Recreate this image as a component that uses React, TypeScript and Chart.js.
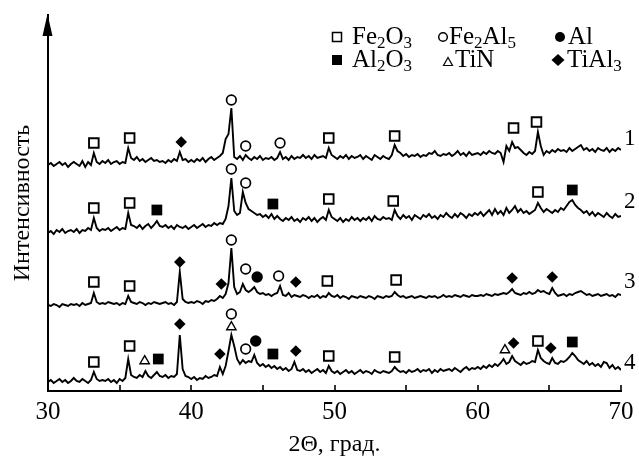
import React, { useEffect, useRef } from 'react';
import { Chart, registerables } from 'chart.js';

Chart.register(...registerables);

// 2Θ sampling grid: 30 .. 70 deg, step 0.2
const X_START = 30;
const X_STEP = 0.2;

// Intensities (arbitrary units, already offset per pattern)
const trace1 = [
  226, 228, 225, 227, 229, 226, 228, 224, 227, 229,
  227, 225, 230, 224, 229, 226, 238, 229, 227, 230,
  228, 231, 227, 229, 230, 227, 229, 228, 243, 233,
  231, 234, 230, 232, 229, 231, 233, 230, 231, 229,
  230, 228, 231, 229, 232, 230, 239, 231, 232, 229,
  231, 229, 232, 230, 233, 229, 232, 234, 231, 233,
  235, 238, 252, 257, 283, 234, 232, 235, 231, 236,
  233, 231, 234, 232, 235, 231, 233, 232, 234, 231,
  233, 239, 232, 234, 231, 235, 232, 234, 233, 236,
  233, 235, 232, 236, 233, 234, 235, 233, 243, 236,
  234, 232, 235, 233, 236, 232, 235, 233, 234, 236,
  232, 235, 233, 231, 236, 234, 232, 235, 233, 232,
  236, 246, 240, 238, 235, 237, 234, 236, 235, 237,
  234, 236, 235, 238, 237, 240, 236, 235, 237, 236,
  238, 235, 237, 240, 236, 238, 235, 239, 236, 237,
  238, 236, 239, 237, 240, 238, 237, 240, 238, 229,
  245, 240, 249, 243, 244, 241, 238, 236, 239, 237,
  240, 259, 245, 236, 240, 238, 241, 239, 242, 240,
  241, 239, 243, 240, 242, 244, 246, 241, 243, 240,
  242, 239, 243, 241, 240, 243, 239, 242, 240, 243,
  241,
];
const trace2 = [
  158, 160, 157, 161, 159, 162, 158, 160, 161, 159,
  162, 158, 161, 160, 163, 161, 173, 163, 160, 162,
  161, 163, 160, 162, 164, 161, 163, 162, 178, 166,
  165, 163, 166, 162, 165, 167, 163, 166, 170, 165,
  164, 166, 163, 165, 162, 166, 164, 163, 165, 162,
  164, 166, 163, 165, 167, 164, 166, 165, 168, 166,
  168, 167, 172, 185, 213, 180, 176, 178, 199, 188,
  182, 180, 178, 176, 177, 174, 176, 173, 177, 172,
  175, 172, 170, 173, 171, 174, 170, 172, 169, 173,
  171, 174, 170, 173, 169, 172, 174, 171, 181, 174,
  172, 170, 173, 169, 172, 170, 174, 171, 173, 170,
  173, 171, 174, 170, 175, 172, 171, 174, 172, 173,
  171, 181, 175, 172, 176, 173, 175, 171, 176, 174,
  172, 176, 174, 177, 173, 175, 172, 176, 174, 178,
  175, 173, 177, 174, 178, 176, 173, 177, 175, 178,
  176, 179, 175, 178, 181, 176, 182, 177, 180, 176,
  183, 178, 181, 185, 179, 182, 178, 180, 177, 179,
  181, 188, 183, 179, 182, 180, 178, 181, 179, 183,
  181, 185, 189, 191, 186, 183, 181, 178, 180, 176,
  179, 175, 178, 176, 174, 178, 175, 173, 177, 174,
  175,
];
const trace3 = [
  86, 85, 87, 86, 84, 87, 86, 85, 87, 86,
  87, 85, 88, 86, 87, 88, 98, 89, 87, 88,
  87, 89, 88, 87, 88, 86, 88, 87, 95, 89,
  88, 87, 89, 88, 86, 88, 87, 89, 88, 87,
  88, 89, 87, 88, 86, 89, 119, 92, 89, 88,
  89, 88, 90, 89, 87, 90, 89, 91, 90, 92,
  95, 93, 97, 108, 143, 104, 97, 99, 107, 101,
  99, 101, 104, 99, 97, 98, 96, 97, 95, 97,
  98, 105, 96, 95, 98, 94, 96, 95, 94, 96,
  95, 93, 95, 94, 96, 93, 95, 94, 98, 95,
  94, 96, 93, 95, 94, 92, 95, 94, 93, 95,
  94, 93, 95, 94, 92, 95, 94, 93, 95, 94,
  95, 99, 96, 94, 95, 93, 94, 95, 93, 94,
  95, 94, 93, 95, 94, 95, 93, 94, 96, 94,
  95, 94, 96, 95, 94, 96, 95, 94, 96, 95,
  95, 96, 95, 97, 96, 95, 97, 96, 97, 98,
  97, 99, 102, 98, 97, 96, 98, 97, 99, 97,
  98, 101, 99, 100, 98, 97, 103, 98, 95, 96,
  97, 95, 97, 96, 98, 99, 100, 98, 96, 97,
  95, 96, 97, 95, 96, 97, 95, 96, 94, 97,
  96,
];
const trace4 = [
  9, 11, 8, 10, 12, 9, 11, 8, 10, 13,
  10, 9, 12, 10, 8, 11, 19, 12, 10, 11,
  10, 12, 9, 11, 8, 12, 10, 13, 32, 16,
  14, 13, 16, 14, 20, 15, 13, 16, 19, 15,
  14, 16, 13, 15, 14, 17, 56, 22, 15, 14,
  12, 14, 11, 13, 12, 15, 13, 14, 16, 15,
  24, 17, 25, 40, 56, 45, 32, 27, 31, 28,
  30, 29, 36, 28, 25, 27, 24, 26, 23, 25,
  22, 24, 21, 23, 20, 22, 29, 21, 20, 22,
  19, 21, 18, 20, 22, 19, 21, 18, 25, 20,
  18, 20, 17, 19, 21, 18, 20, 17, 19, 21,
  18, 20, 19, 17, 21, 19, 18, 20, 19, 18,
  20, 24, 21, 19, 20, 18, 21, 19, 20, 22,
  19, 21, 20, 22, 18, 21, 19, 22, 20, 21,
  22, 20, 23, 21, 19, 22, 24, 21, 23, 22,
  24, 22, 25, 23, 26, 24, 27, 25, 28, 32,
  27, 29, 35, 30, 28, 26, 29, 27, 28, 30,
  29, 41, 33, 30, 28, 27, 33, 28, 27, 30,
  29, 31, 34, 38, 35, 31, 29, 27, 30, 26,
  28, 25, 27, 24, 29, 28, 23, 26, 22, 24,
  21,
];

// Phase markers (2Θ, height)
const fe2o3X = [33.2, 35.7, 49.6, 54.2, 62.5, 64.1, 33.2, 35.7, 49.6, 54.1, 64.2, 33.2, 35.7, 49.5, 54.3, 33.2, 35.7, 49.6, 54.2, 64.2];
const fe2o3Y = [248, 253, 253, 255, 263, 269, 183, 188, 192, 190, 199, 109, 105, 110, 111, 29, 45, 35, 34, 50];
const fe2al5X = [42.8, 43.8, 46.2, 42.8, 43.8, 42.8, 43.8, 46.1, 42.8, 43.8];
const fe2al5Y = [291, 245, 248, 222, 208, 151, 122, 115, 77, 42];
const alX = [44.6, 44.5];
const alY = [114, 50];
const al2o3X = [37.6, 45.7, 66.6, 37.7, 45.7, 66.6];
const al2o3Y = [181, 187, 201, 32, 37, 49];
const tinX = [36.75, 42.8, 61.9];
const tinY = [30, 64, 41];
const tial3X = [39.3, 39.2, 42.1, 47.3, 62.4, 65.2, 39.2, 42.0, 47.3, 62.5, 65.1];
const tial3Y = [249, 129, 107, 109, 113, 114, 67, 37, 40, 48, 43];

const legendNames = ['Fe_2O_3', 'Fe_2Al_5', 'Al', 'Al_2O_3', 'TiN', 'TiAl_3'];
const traceNames = ['1', '2', '3', '4'];
const traceLabelY = [252, 189, 109, 28];
const xMinorTicks = [35, 40, 45, 50, 55, 60, 65, 70];

const SERIF = '"Liberation Serif", "Times New Roman", serif';

function toLine(ys: number[]) {
  return ys.map((y, i) => ({ x: +(X_START + i * X_STEP).toFixed(2), y }));
}
function toPts(xs: number[], ys: number[]) {
  return xs.map((x, i) => ({ x, y: ys[i] }));
}

function drawRich(ctx: CanvasRenderingContext2D, text: string, x: number, y: number, size: number) {
  const parts = text.split(/(_\d)/).filter((p) => p.length);
  let cx = x;
  for (const p of parts) {
    const sub = p.startsWith('_');
    const t = sub ? p.slice(1) : p;
    const s = sub ? Math.round(size * 0.66) : size;
    ctx.font = `${s}px ${SERIF}`;
    ctx.fillText(t, cx, y + (sub ? size * 0.16 : 0));
    cx += ctx.measureText(t).width;
  }
}

const decorPlugin = {
  id: 'decor',
  afterDraw(chart: any) {
    const ctx: CanvasRenderingContext2D = chart.ctx;
    const { left, bottom } = chart.chartArea;
    const xs = chart.scales.x;
    const ys = chart.scales.y;
    ctx.save();
    ctx.fillStyle = '#000';
    ctx.strokeStyle = '#000';
    // arrow on the intensity axis
    ctx.beginPath();
    ctx.moveTo(left - 0.5, 14);
    ctx.lineTo(left - 5.5, 36);
    ctx.lineTo(left + 4.5, 36);
    ctx.closePath();
    ctx.fill();
    // inward tick marks
    ctx.lineWidth = 1.6;
    for (const t of xMinorTicks) {
      const px = Math.round(xs.getPixelForValue(t));
      ctx.beginPath();
      ctx.moveTo(px, bottom);
      ctx.lineTo(px, bottom - 6);
      ctx.stroke();
    }
    // pattern numbers
    ctx.textBaseline = 'middle';
    ctx.textAlign = 'left';
    ctx.font = `23px ${SERIF}`;
    traceNames.forEach((n, i) => {
      ctx.fillText(n, xs.getPixelForValue(70) + 3, ys.getPixelForValue(traceLabelY[i]));
    });
    // legend
    ctx.textBaseline = 'alphabetic';
    const size = 25;
    // row 1
    ctx.lineWidth = 1.5;
    ctx.strokeRect(332.5, 32.5, 9, 9);
    drawRich(ctx, legendNames[0], 352, 44, size);
    ctx.beginPath();
    ctx.arc(443, 37, 4.3, 0, Math.PI * 2);
    ctx.stroke();
    drawRich(ctx, legendNames[1], 449, 44, size);
    ctx.beginPath();
    ctx.arc(560, 37, 5, 0, Math.PI * 2);
    ctx.fill();
    drawRich(ctx, legendNames[2], 568, 44, size);
    // row 2
    ctx.fillRect(332, 55, 10, 10);
    drawRich(ctx, legendNames[3], 352, 67, size);
    ctx.lineWidth = 1.2;
    ctx.beginPath();
    ctx.moveTo(448, 57.5);
    ctx.lineTo(443.5, 65.5);
    ctx.lineTo(452.5, 65.5);
    ctx.closePath();
    ctx.stroke();
    drawRich(ctx, legendNames[4], 455, 67, size);
    ctx.beginPath();
    ctx.moveTo(558, 54);
    ctx.lineTo(564.5, 60);
    ctx.lineTo(558, 66);
    ctx.lineTo(551.5, 60);
    ctx.closePath();
    ctx.fill();
    drawRich(ctx, legendNames[5], 567, 67, size);
    ctx.restore();
  },
};

function markerSet(xs: number[], ys: number[], style: string, radius: number, fill: string, bw: number) {
  return {
    type: 'scatter' as const,
    data: toPts(xs, ys),
    pointStyle: style,
    pointRadius: radius,
    pointBackgroundColor: fill,
    pointBorderColor: '#000',
    pointBorderWidth: bw,
    showLine: false,
  };
}

function lineSet(ys: number[]) {
  return {
    type: 'line' as const,
    data: toLine(ys),
    borderColor: '#000',
    borderWidth: 1.9,
    pointRadius: 0,
    tension: 0,
    fill: false,
  };
}

export default function App() {
  const ref = useRef<HTMLCanvasElement>(null);
  useEffect(() => {
    const chart = new Chart(ref.current as HTMLCanvasElement, {
      type: 'line',
      data: {
        datasets: [
          lineSet(trace1),
          lineSet(trace2),
          lineSet(trace3),
          lineSet(trace4),
          markerSet(fe2o3X, fe2o3Y, 'rect', 6.8, '#fff', 1.9),
          markerSet(fe2al5X, fe2al5Y, 'circle', 4.8, '#fff', 1.7),
          markerSet(alX, alY, 'circle', 5.7, '#000', 0),
          markerSet(al2o3X, al2o3Y, 'rect', 7.6, '#000', 0),
          markerSet(tinX, tinY, 'triangle', 5.4, '#fff', 1.4),
          markerSet(tial3X, tial3Y, 'rectRot', 5.8, '#000', 0),
        ] as any,
      },
      options: {
        animation: false,
        responsive: false,
        events: [],
        layout: { padding: { top: 15, right: 18, left: 0, bottom: 0 } },
        plugins: { legend: { display: false }, tooltip: { enabled: false } },
        scales: {
          x: {
            type: 'linear',
            min: 30,
            max: 70,
            grid: { display: false, drawTicks: false },
            border: { display: true, color: '#000', width: 2 },
            ticks: {
              stepSize: 10,
              color: '#000',
              padding: 6,
              font: { family: SERIF, size: 25 },
            },
            title: {
              display: true,
              text: '2Θ, град.',
              color: '#000',
              font: { family: SERIF, size: 24, lineHeight: 1 },
              padding: { top: 0, bottom: 2 },
            },
            afterFit(scale: any) {
              scale.height = 68;
              scale.paddingLeft = 0;
              scale.paddingRight = 0;
            },
          },
          y: {
            type: 'linear',
            min: 0,
            max: 376,
            grid: { display: false, drawTicks: false },
            border: { display: true, color: '#000', width: 2 },
            ticks: { display: false },
            title: {
              display: true,
              text: 'Интенсивность',
              color: '#000',
              font: { family: SERIF, size: 24, lineHeight: 1 },
              padding: { top: 11, bottom: 0 },
            },
            afterFit(scale: any) {
              scale.width = 48;
              scale.paddingTop = 0;
              scale.paddingBottom = 0;
            },
          },
        },
      } as any,
      plugins: [decorPlugin],
    });
    return () => chart.destroy();
  }, []);
  return (
    <div style={{ position: 'absolute', left: 0, top: 0, width: 639, height: 459, background: '#fff' }}>
      <canvas ref={ref} width={639} height={459} style={{ display: 'block' }} />
    </div>
  );
}
